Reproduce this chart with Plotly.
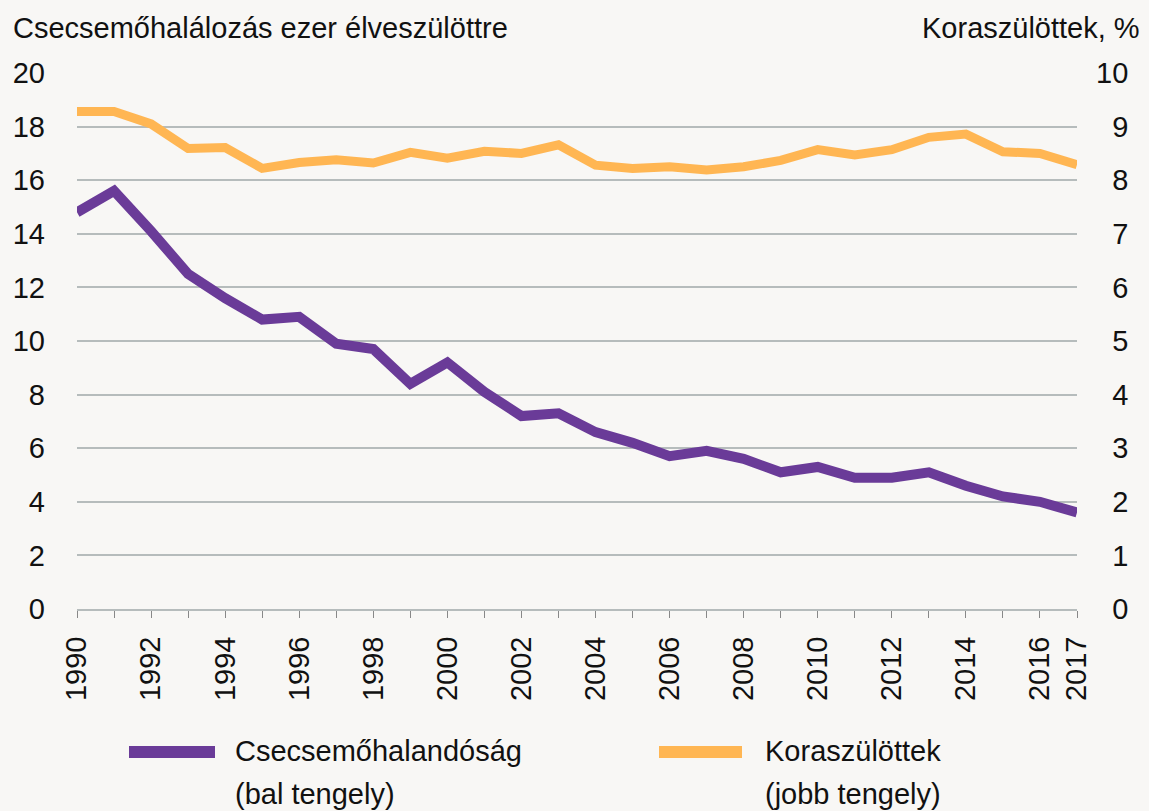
import plotly.graph_objects as go

years = list(range(1990, 2018))
infant_mortality = [14.8, 15.6, 14.1, 12.5, 11.6, 10.8, 10.9, 9.9, 9.7, 8.4,
                    9.2, 8.1, 7.2, 7.3, 6.6, 6.2, 5.7, 5.9, 5.6, 5.1,
                    5.3, 4.9, 4.9, 5.1, 4.6, 4.2, 4.0, 3.6]
premature_pct = [9.28, 9.28, 9.05, 8.59, 8.61, 8.22, 8.33, 8.38, 8.32, 8.52,
                 8.41, 8.54, 8.50, 8.66, 8.28, 8.22, 8.25, 8.19, 8.25, 8.37,
                 8.57, 8.47, 8.57, 8.80, 8.86, 8.53, 8.50, 8.29]
x_tick_labels = [str(y) if (y % 2 == 0 or y == 2017) else "" for y in years]
left_ticks = [0, 2, 4, 6, 8, 10, 12, 14, 16, 18, 20]
right_ticks = [0, 1, 2, 3, 4, 5, 6, 7, 8, 9, 10]
right_tick_labels = [("\u2007" + str(v)) if v < 10 else str(v) for v in right_ticks]

series_names = ["Csecsemőhalandóság", "Koraszülöttek"]
series_notes = ["(bal tengely)", "(jobb tengely)"]
left_title = "Csecsemőhalálozás ezer élveszülöttre"
right_title = "Koraszülöttek, %"

PURPLE = "#6a3b98"
ORANGE = "#ffb653"
GRID = "#b6bcbc"
FONT = "Liberation Sans, Arial, sans-serif"
FS = 29
TXT = "#111111"

W, H = 1149, 811
L, R, T, B = 77, 72, 73, 202
pw, ph = W - L - R, H - T - B


def px(xpix):
    return (xpix - L) / pw


def py(ypix):
    return (H - B - ypix) / ph


fig = go.Figure()
fig.add_trace(go.Scatter(x=years, y=premature_pct, yaxis="y2", mode="lines",
                         line=dict(color=ORANGE, width=9), name=series_names[1],
                         showlegend=False))
fig.add_trace(go.Scatter(x=years, y=infant_mortality, mode="lines",
                         line=dict(color=PURPLE, width=10), name=series_names[0],
                         showlegend=False))

fig.update_layout(
    width=W, height=H,
    margin=dict(l=L, r=R, t=T, b=B),
    paper_bgcolor="#f8f7f5", plot_bgcolor="#f8f7f5",
    font=dict(family=FONT, size=FS, color=TXT),
    xaxis=dict(range=[1990, 2017], tickmode="array", tickvals=years,
               ticktext=x_tick_labels, tickangle=-90, ticks="outside",
               ticklen=7, tickcolor="#888888", tickwidth=1,
               showline=True, linecolor=GRID, linewidth=2,
               showgrid=False, zeroline=False, ticklabelstandoff=7,
               tickfont=dict(size=FS, color=TXT)),
    yaxis=dict(range=[0, 20], tickmode="array", tickvals=left_ticks,
               showgrid=True, gridcolor=GRID, gridwidth=1.5,
               zeroline=False, showline=False, ticks="",
               ticklabelstandoff=31, tickfont=dict(size=FS, color=TXT)),
    yaxis2=dict(range=[0, 10], overlaying="y", side="right",
                tickmode="array", tickvals=right_ticks, ticktext=right_tick_labels,
                showgrid=False, zeroline=False, showline=False, ticks="",
                ticklabelstandoff=18, tickfont=dict(size=FS, color=TXT)),
)

annotations = [
    dict(text=left_title, x=px(11), y=py(28), xanchor="left", yanchor="middle"),
    dict(text=right_title, x=px(1142), y=py(28), xanchor="right", yanchor="middle"),
    dict(text=series_names[0], x=px(233), y=py(751), xanchor="left", yanchor="middle"),
    dict(text=series_notes[0], x=px(233), y=py(794), xanchor="left", yanchor="middle"),
    dict(text=series_names[1], x=px(763), y=py(751), xanchor="left", yanchor="middle"),
    dict(text=series_notes[1], x=px(763), y=py(794), xanchor="left", yanchor="middle"),
]
for a in annotations:
    a.update(xref="paper", yref="paper", showarrow=False,
             font=dict(family=FONT, size=FS, color=TXT))
fig.update_layout(annotations=annotations)

fig.add_shape(type="line", xref="paper", yref="paper",
              x0=px(129), x1=px(215), y0=py(752), y1=py(752),
              line=dict(color=PURPLE, width=12))
fig.add_shape(type="line", xref="paper", yref="paper",
              x0=px(659), x1=px(742), y0=py(752), y1=py(752),
              line=dict(color=ORANGE, width=12))

fig.write_html("out.html", config={"displayModeBar": False},
               post_script="document.body.style.margin='0';document.body.style.overflow='hidden';")
